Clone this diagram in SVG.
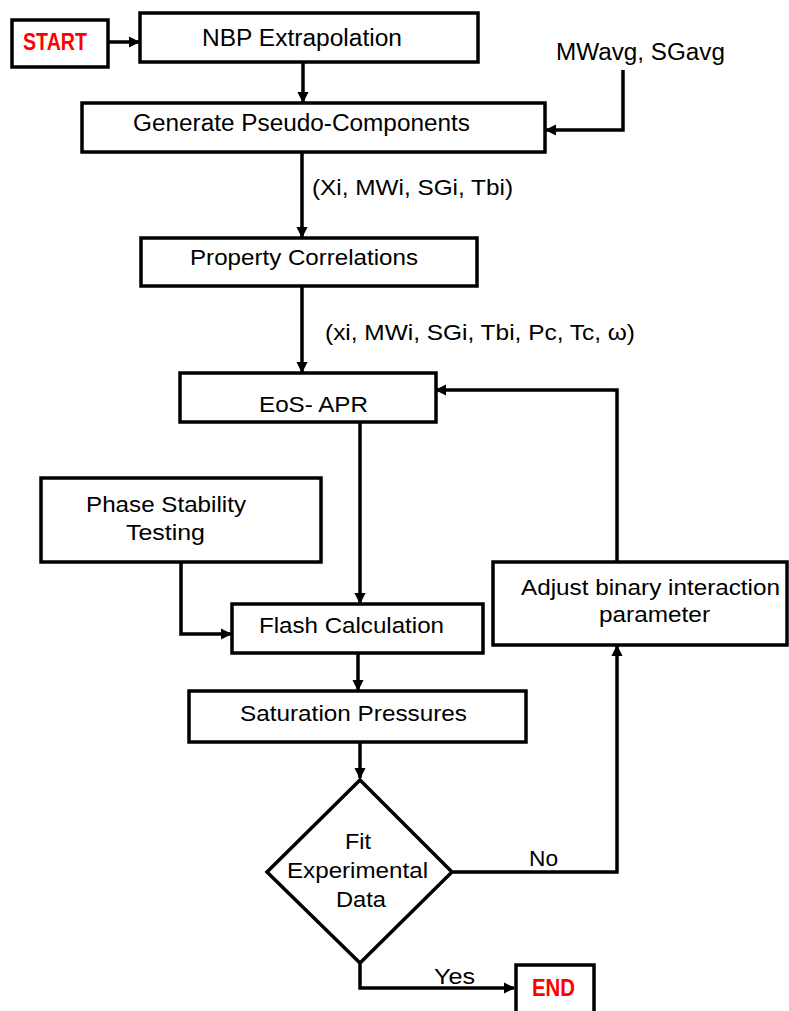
<svg xmlns="http://www.w3.org/2000/svg" width="789" height="1011" viewBox="0 0 789 1011">
<style>
.box{fill:#fff;stroke:#000;stroke-width:3.5}
.ln{fill:none;stroke:#000;stroke-width:3.5}
.t{font-family:"Liberation Sans",Arial,sans-serif;font-size:22px;fill:#000}
.r{font-family:"Liberation Sans",Arial,sans-serif;font-size:23px;font-weight:bold;fill:#ff0000}
</style>
<defs>
<marker id="ah" viewBox="0 0 10 10" refX="9" refY="5" markerWidth="3.2" markerHeight="3.2" orient="auto" markerUnits="strokeWidth">
<path d="M0,0 L10,5 L0,10 z" fill="#000"/>
</marker>
</defs>
<rect width="789" height="1011" fill="#fff"/>
<g id="connectors">
<line class="ln" x1="108" y1="42" x2="139" y2="42" marker-end="url(#ah)"/>
<line class="ln" x1="303" y1="62" x2="303" y2="102" marker-end="url(#ah)"/>
<polyline class="ln" points="623,70 623,130 546,130" marker-end="url(#ah)"/>
<line class="ln" x1="302" y1="152" x2="302" y2="237" marker-end="url(#ah)"/>
<line class="ln" x1="302" y1="287" x2="302" y2="372" marker-end="url(#ah)"/>
<line class="ln" x1="360" y1="422" x2="360" y2="603" marker-end="url(#ah)"/>
<polyline class="ln" points="181,562 181,634 231,634" marker-end="url(#ah)"/>
<line class="ln" x1="358" y1="653" x2="358" y2="690" marker-end="url(#ah)"/>
<line class="ln" x1="360" y1="742" x2="360" y2="778" marker-end="url(#ah)"/>
<polyline class="ln" points="452,872 617,872 617,646" marker-end="url(#ah)"/>
<polyline class="ln" points="617,562 617,390 436,390" marker-end="url(#ah)"/>
<polyline class="ln" points="360,963 360,988 514,988" marker-end="url(#ah)"/>
<text class="t" x="312" y="195" textLength="201" lengthAdjust="spacingAndGlyphs">(Xi, MWi, SGi, Tbi)</text>
<text class="t" x="325" y="340" textLength="310" lengthAdjust="spacingAndGlyphs">(xi, MWi, SGi, Tbi, Pc, Tc, ω)</text>
<text class="t" x="529" y="866" textLength="29" lengthAdjust="spacingAndGlyphs">No</text>
<text class="t" x="434" y="984" textLength="41" lengthAdjust="spacingAndGlyphs">Yes</text>
</g>
<g id="start">
<rect class="box" x="12" y="20" width="96" height="47"/>
<text class="r" x="23" y="50" textLength="64" lengthAdjust="spacingAndGlyphs">START</text>
</g>
<g id="nbp">
<rect class="box" x="140" y="13" width="338" height="49"/>
<text class="t" x="202" y="46" textLength="200" lengthAdjust="spacingAndGlyphs" style="font-size:23px">NBP Extrapolation</text>
</g>
<g id="mwavg">
<text class="t" x="556" y="60" textLength="169" lengthAdjust="spacingAndGlyphs" style="font-size:23px">MWavg, SGavg</text>
</g>
<g id="generate">
<rect class="box" x="82" y="103" width="463" height="49"/>
<text class="t" x="133" y="131" textLength="337" lengthAdjust="spacingAndGlyphs" style="font-size:23px">Generate Pseudo-Components</text>
</g>
<g id="property">
<rect class="box" x="141" y="238" width="336" height="48"/>
<text class="t" x="190" y="265" textLength="228" lengthAdjust="spacingAndGlyphs">Property Correlations</text>
</g>
<g id="eos">
<rect class="box" x="180" y="373" width="256" height="49"/>
<text class="t" x="259" y="412" textLength="109" lengthAdjust="spacingAndGlyphs">EoS- APR</text>
</g>
<g id="phase">
<rect class="box" x="41" y="478" width="280" height="84"/>
<text class="t" x="86" y="512" textLength="160" lengthAdjust="spacingAndGlyphs">Phase Stability</text>
<text class="t" x="126" y="540" textLength="79" lengthAdjust="spacingAndGlyphs">Testing</text>
</g>
<g id="flash">
<rect class="box" x="232" y="604" width="251" height="49"/>
<text class="t" x="259" y="633" textLength="185" lengthAdjust="spacingAndGlyphs">Flash Calculation</text>
</g>
<g id="adjust">
<rect class="box" x="493" y="562" width="294" height="83"/>
<text class="t" x="521" y="595" textLength="259" lengthAdjust="spacingAndGlyphs">Adjust binary interaction</text>
<text class="t" x="599" y="622" textLength="111" lengthAdjust="spacingAndGlyphs">parameter</text>
</g>
<g id="saturation">
<rect class="box" x="189" y="691" width="337" height="51"/>
<text class="t" x="240" y="721" textLength="227" lengthAdjust="spacingAndGlyphs">Saturation Pressures</text>
</g>
<g id="fit">
<polygon class="box" points="360,780 452,872 360,963 267,872"/>
<text class="t" x="345" y="849" textLength="26" lengthAdjust="spacingAndGlyphs">Fit</text>
<text class="t" x="287" y="878" textLength="141" lengthAdjust="spacingAndGlyphs">Experimental</text>
<text class="t" x="336" y="907" textLength="50" lengthAdjust="spacingAndGlyphs">Data</text>
</g>
<g id="end">
<rect class="box" x="516" y="965" width="78" height="50"/>
<text class="r" x="532" y="996" textLength="43" lengthAdjust="spacingAndGlyphs">END</text>
</g>
</svg>
